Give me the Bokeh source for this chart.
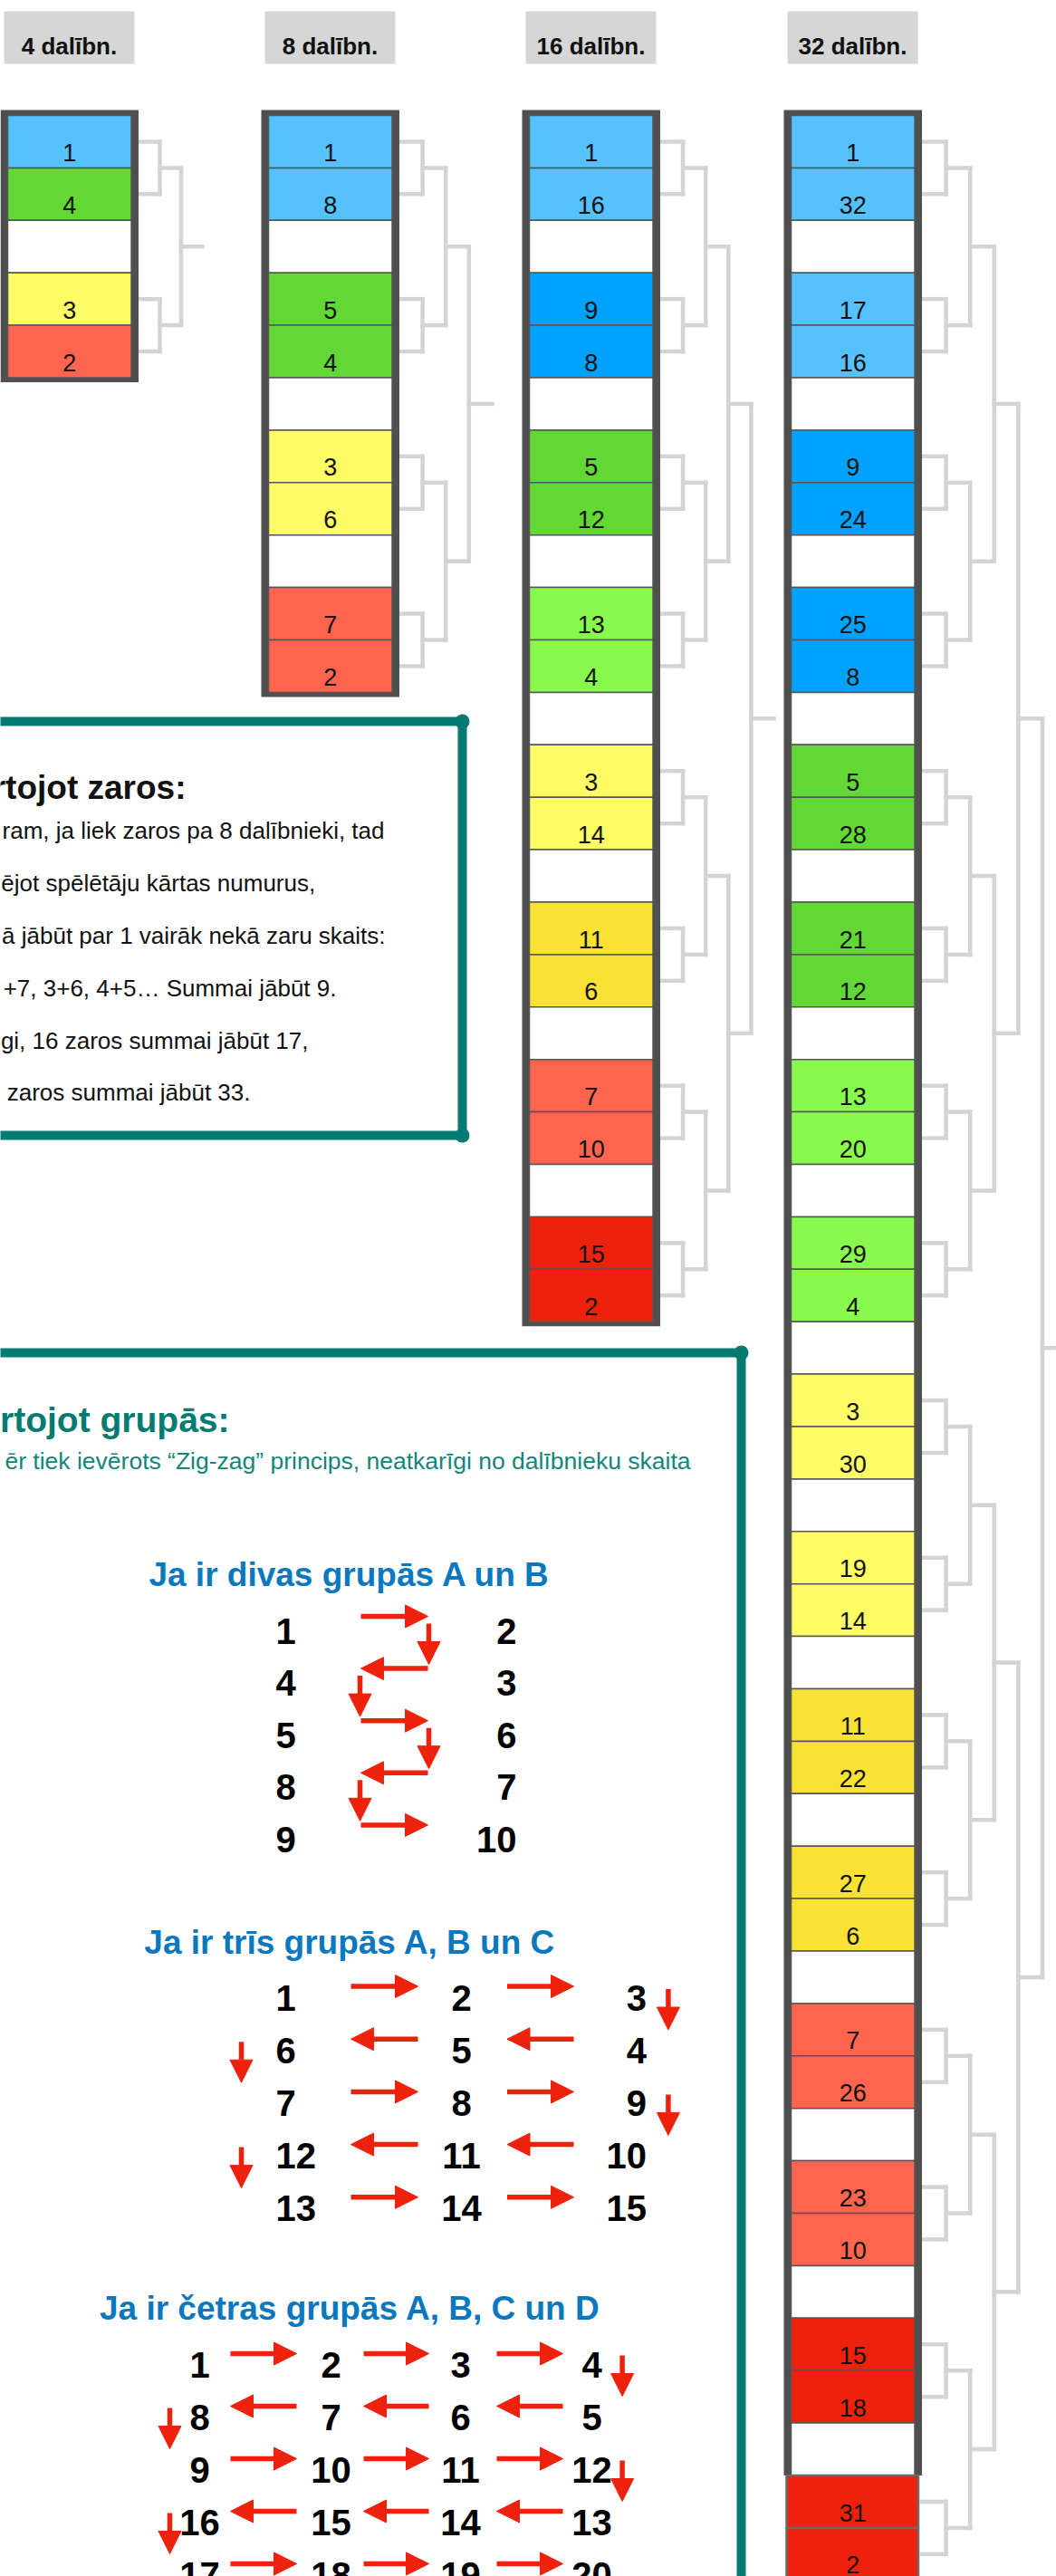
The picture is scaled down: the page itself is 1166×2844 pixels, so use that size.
from bokeh.plotting import figure
from bokeh.models import Range1d, ColumnDataSource, Arrow, NormalHead
from bokeh.core.properties import value
from bokeh.embed import file_html
from bokeh.resources import INLINE

FONT = value("Liberation Sans")

# ---------------- data ----------------
header_labels = ["4 dalībn.", "8 dalībn.", "16 dalībn.", "32 dalībn."]

seeds_4 = [1, 4, 3, 2]
seeds_8 = [1, 8, 5, 4, 3, 6, 7, 2]
seeds_16 = [1, 16, 9, 8, 5, 12, 13, 4, 3, 14, 11, 6, 7, 10, 15, 2]
seeds_32 = [1, 32, 17, 16, 9, 24, 25, 8, 5, 28, 21, 12, 13, 20, 29, 4,
            3, 30, 19, 14, 11, 22, 27, 6, 7, 26, 23, 10, 15, 18, 31, 2]

tones_4 = ["sky", "green", "lemon", "coral"]
tones_8 = ["sky", "sky", "green", "green", "lemon", "lemon", "coral", "coral"]
tones_16 = ["sky", "sky", "blue", "blue", "green", "green", "lime", "lime",
            "lemon", "lemon", "gold", "gold", "coral", "coral", "red", "red"]
tones_32 = ["sky", "sky", "sky", "sky", "blue", "blue", "blue", "blue",
            "green", "green", "green", "green", "lime", "lime", "lime", "lime",
            "lemon", "lemon", "lemon", "lemon", "gold", "gold", "gold", "gold",
            "coral", "coral", "coral", "coral", "red", "red", "red", "red"]

palette = {"sky": "#56C1FF", "blue": "#00A2FF", "green": "#61D836",
           "lime": "#88FA4E", "lemon": "#FFFC66", "gold": "#F9E234",
           "coral": "#FF644E", "red": "#EE220C"}

zaros_title = "rtojot zaros:"
zaros_lines = ["ram, ja liek zaros pa 8 dalībnieki, tad",
               "ējot spēlētāju kārtas numurus,",
               "ā jābūt par 1 vairāk nekā zaru skaits:",
               "+7, 3+6, 4+5… Summai jābūt 9.",
               "gi, 16 zaros summai jābūt 17,",
               "zaros summai jābūt 33."]

grupas_title = "rtojot grupās:"
grupas_sub = "ēr tiek ievērots “Zig-zag” princips, neatkarīgi no dalībnieku skaita"

grid_titles = ["Ja ir divas grupās A un B",
               "Ja ir trīs grupās A, B un C",
               "Ja ir četras grupās A, B, C un D"]

rows_2 = [[1, 2], [4, 3], [5, 6], [8, 7], [9, 10]]
rows_3 = [[1, 2, 3], [6, 5, 4], [7, 8, 9], [12, 11, 10], [13, 14, 15]]
rows_4 = [[1, 2, 3, 4], [8, 7, 6, 5], [9, 10, 11, 12], [16, 15, 14, 13], [17, 18, 19, 20]]

# ---------------- layout ----------------
W, H = 1166, 2844
TOP = 127.0
SLOT = 57.9
COL_W = 152.5
FRAME = 8.0
col_left = [0, 288, 576, 865]
bracket_step = [23.5, 25.6, 25.1, 26.6]
TEAL = "#037B72"
BLUE = "#0A78BF"
RED = "#EE220C"
LINE_GRAY = "#D4D4D4"
FRAME_GRAY = "#4F4F4F"

p = figure(width=W, height=H, x_range=Range1d(0, W), y_range=Range1d(H, 0),
           output_backend="svg", toolbar_location=None, min_border=0,
           x_axis_type=None, y_axis_type=None)
p.grid.visible = False
p.outline_line_color = None
p.background_fill_color = "white"
p.border_fill_color = "white"


def slot_of(i):
    return (i // 2) * 3 + (i % 2)


brackets = [(seeds_4, tones_4), (seeds_8, tones_8), (seeds_16, tones_16), (seeds_32, tones_32)]

# bracket connector lines
seg = dict(x0=[], y0=[], x1=[], y1=[])


def add_seg(a, b, c, d):
    seg["x0"].append(a); seg["y0"].append(b); seg["x1"].append(c); seg["y1"].append(d)


for k, (seeds, tones) in enumerate(brackets):
    L = col_left[k]
    right = L + COL_W
    step = bracket_step[k]
    cur = [TOP + slot_of(i) * SLOT + SLOT / 2 for i in range(len(seeds))]
    lvl = 0
    while len(cur) > 1:
        xa = right + lvl * step
        xb = right + (lvl + 1) * step
        nxt = []
        for j in range(0, len(cur), 2):
            ya, yb = cur[j], cur[j + 1]
            add_seg(xa, ya, xb, ya)
            add_seg(xa, yb, xb, yb)
            add_seg(xb, ya, xb, yb)
            nxt.append((ya + yb) / 2)
        cur = nxt
        lvl += 1
    add_seg(right + lvl * step, cur[0], right + (lvl + 1) * step, cur[0])

p.segment("x0", "y0", "x1", "y1", source=ColumnDataSource(seg), line_color=LINE_GRAY,
          line_width=4.5, line_cap="square")

# headers
hd = dict(l=[], r=[], t=[], b=[], x=[], y=[], s=[])
for k, lab in enumerate(header_labels):
    L = col_left[k]
    hd["l"].append(L + 4); hd["r"].append(L + 148); hd["t"].append(12); hd["b"].append(70)
    hd["x"].append(L + 76); hd["y"].append(50); hd["s"].append(lab)
hsrc = ColumnDataSource(hd)
p.quad(left="l", right="r", top="t", bottom="b", source=hsrc, fill_color="#D6D6D6", line_color=None)
p.text(x="x", y="y", text="s", source=hsrc, text_font=FONT, text_font_size=value("26px"),
       text_font_style="bold", text_align="center", text_baseline="alphabetic", text_color="#111111")

# frames and cells
fr = dict(l=[], r=[], t=[], b=[])
cell = dict(l=[], r=[], t=[], b=[], c=[])
extra = dict(l=[], r=[], t=[], b=[], c=[])
lab = dict(x=[], y=[], s=[])
for k, (seeds, tones) in enumerate(brackets):
    L = col_left[k]
    n = len(seeds)
    nslots = slot_of(n - 1) + 1
    framed = nslots if n < 32 else nslots - 2
    fr["l"].append(L); fr["r"].append(L + COL_W); fr["t"].append(TOP - 6)
    fr["b"].append(TOP + framed * SLOT + (5 if n < 32 else 0))
    filled = {slot_of(i): i for i in range(n)}
    for s in range(nslots):
        top = TOP + s * SLOT
        if s in filled:
            i = filled[s]
            col = palette[tones[i]]
            lab["x"].append(L + 76.25); lab["y"].append(top + 41); lab["s"].append(str(seeds[i]))
        else:
            col = "white"
        target = cell if s < framed else extra
        if s < framed:
            target["l"].append(L + FRAME); target["r"].append(L + COL_W - FRAME)
        else:
            target["l"].append(L + 3); target["r"].append(L + COL_W - 4)
        target["t"].append(top); target["b"].append(top + SLOT); target["c"].append(col)

p.quad(left="l", right="r", top="t", bottom="b", source=ColumnDataSource(fr),
       fill_color=FRAME_GRAY, line_color=None)
p.quad(left="l", right="r", top="t", bottom="b", source=ColumnDataSource(cell),
       fill_color="c", line_color="#555555", line_width=1.5)
p.quad(left="l", right="r", top="t", bottom="b", source=ColumnDataSource(extra),
       fill_color="c", line_color="#6A6A6A", line_width=2.5)
p.text(x="x", y="y", text="s", source=ColumnDataSource(lab), text_font=FONT,
       text_font_size=value("27px"), text_align="center", text_baseline="alphabetic",
       text_color="#111111")

# teal hand-drawn boxes
box = dict(x0=[-30, 510, -30, -30, 818], y0=[796, 796, 1253, 1493, 1493],
           x1=[510, 510, 510, 818, 818], y1=[796, 1253, 1253, 1493, 2900])
p.segment("x0", "y0", "x1", "y1", source=ColumnDataSource(box), line_color=TEAL,
          line_width=10, line_cap="round")
p.scatter(x=[510, 510, 818], y=[796, 1253, 1493], size=16, marker="circle",
          fill_color=TEAL, line_color=None)

# box 1 text
p.text(x=[205], y=[869], text=[zaros_title], text_font=FONT, text_font_size=value("37px"),
       text_font_style="bold", text_align="right", text_baseline="alphabetic", text_color="#111111")
z_end = [424, 347.7, 425, 371, 340, 276]
p.text(x=z_end, y=[916.7 + 57.85 * i for i in range(len(zaros_lines))], text=zaros_lines,
       text_font=FONT, text_font_size=value("26px"), text_align="right",
       text_baseline="alphabetic", text_color="#111111")

# box 2 text
p.text(x=[253], y=[1567], text=[grupas_title], text_font=FONT, text_font_size=value("39px"),
       text_font_style="bold", text_align="right", text_baseline="alphabetic", text_color=TEAL)
p.text(x=[762], y=[1612], text=[grupas_sub], text_font=FONT, text_font_size=value("26.5px"),
       text_align="right", text_baseline="alphabetic", text_color="#13857B")
p.text(x=[386, 386, 386], y=[1738, 2143.6, 2548], text=grid_titles, text_font=FONT,
       text_font_size=value("37px"), text_font_style="bold", text_align="center",
       text_baseline="alphabetic", text_color=BLUE)

# zig-zag grids
arr = dict(x0=[], y0=[], x1=[], y1=[])
grids = [
    dict(rows=rows_2, cx=[315, 570], al=["center", "right"], y0=1800, gap=57.6,
         spans=[(398, 472)], dy=16, down=(397, 473), dd=8),
    dict(rows=rows_3, cx=[304, 509, 713.6], al=["left", "center", "right"], y0=2205, gap=58.2,
         spans=[(387, 461), (559.5, 633)], dy=12.5, down=(266, 737.4), dd=3),
    dict(rows=rows_4, cx=[220, 365, 508, 653], al=["center", "center", "center", "center"],
         y0=2610, gap=58, spans=[(254, 327), (401, 473), (548, 621)], dy=12, down=(187, 686.6), dd=2),
]
for g in grids:
    for al in set(g["al"]):
        xs, ys, ts = [], [], []
        for r, row in enumerate(g["rows"]):
            for c, v in enumerate(row):
                if g["al"][c] == al:
                    xs.append(g["cx"][c]); ys.append(g["y0"] + r * g["gap"]); ts.append(str(v))
        p.text(x=xs, y=ys, text=ts, text_font=FONT, text_font_size=value("40px"),
               text_font_style="bold", text_align=al, text_baseline="alphabetic",
               text_color="#000000")
    for r, row in enumerate(g["rows"]):
        ya = g["y0"] + r * g["gap"] - g["dy"]
        inc = row[-1] > row[0]
        for (xa, xb) in g["spans"]:
            if inc:
                arr["x0"].append(xa); arr["x1"].append(xb)
            else:
                arr["x0"].append(xb); arr["x1"].append(xa)
            arr["y0"].append(ya); arr["y1"].append(ya)
        if r < len(g["rows"]) - 1:
            xd = g["down"][1] if inc else g["down"][0]
            arr["x0"].append(xd); arr["x1"].append(xd)
            arr["y0"].append(ya + g["dd"]); arr["y1"].append(ya + g["dd"] + 45)

p.add_layout(Arrow(end=NormalHead(size=25, fill_color=RED, line_color=RED, line_width=1),
                   x_start="x0", y_start="y0", x_end="x1", y_end="y1",
                   source=ColumnDataSource(arr), line_color=RED, line_width=5.5))

open("out.html", "w").write(file_html(p, INLINE))
